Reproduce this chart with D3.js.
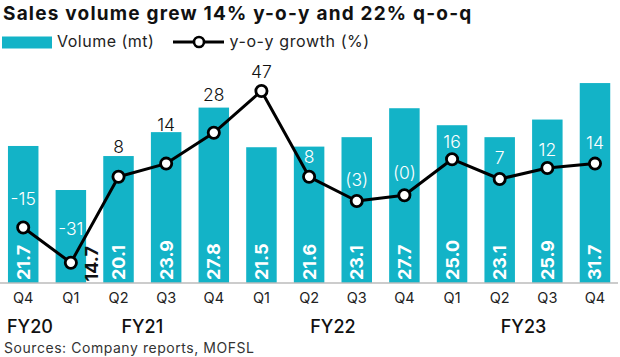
<!DOCTYPE html>
<html>
<head>
<meta charset="utf-8">
<script src="https://cdn.jsdelivr.net/npm/d3@7"></script>
<style>
  html, body { margin: 0; padding: 0; background: #fff; }
  svg { display: block; font-family: Inter, "Open Sans", sans-serif; }
</style>
</head>
<body>
<svg id="chart" width="620" height="357"></svg>
<script>
// ---- data ----
const titleText = "Sales volume grew 14% y-o-y and 22% q-o-q";
const quarters = ["Q4", "Q1", "Q2", "Q3", "Q4", "Q1", "Q2", "Q3", "Q4", "Q1", "Q2", "Q3", "Q4"];
const fiscalYears = ["FY20", "FY21", "FY21", "FY21", "FY21", "FY22", "FY22", "FY22", "FY22", "FY23", "FY23", "FY23", "FY23"];
const volume = [21.7, 14.7, 20.1, 23.9, 27.8, 21.5, 21.6, 23.1, 27.7, 25.0, 23.1, 25.9, 31.7];
const volumeLabels = ["21.7", "14.7", "20.1", "23.9", "27.8", "21.5", "21.6", "23.1", "27.7", "25.0", "23.1", "25.9", "31.7"];
const growth = [-15, -31, 8, 14, 28, 47, 8, -3, -0.4, 16, 7, 12, 14];
const growthLabels = ["-15", "-31", "8", "14", "28", "47", "8", "(3)", "(0)", "16", "7", "12", "14"];
const seriesNames = ["Volume (mt)", "y-o-y growth (%)"];
const sourceText = "Sources: Company reports, MOFSL";

// ---- drawing ----
const teal = "#13b3c7";
const svg = d3.select("#chart");
const keys = quarters.map((q, i) => i);

const x = d3.scaleBand().domain(keys).range([3.2, 615]).paddingInner(0.36).paddingOuter(0.1);
const yBar = d3.scaleLinear().domain([0, 35]).range([282.5, 62.3]);
const yLine = d3.scaleLinear().domain([-40, 60]).range([282.5, 62.3]);
const cx = i => x(i) + x.bandwidth() / 2;

// title
svg.append("text").attr("x", 3).attr("y", 19.5)
  .attr("font-size", 19).attr("font-weight", 700).attr("letter-spacing", 1.2).attr("fill", "#111")
  .text(titleText);

// legend
const lg = svg.append("g");
lg.append("rect").attr("x", 2).attr("y", 36.5).attr("width", 50).attr("height", 12).attr("fill", teal);
lg.append("text").attr("x", 57).attr("y", 47).attr("font-size", 16).attr("letter-spacing", 0.5)
  .attr("fill", "#222").text(seriesNames[0]);
lg.append("line").attr("x1", 173).attr("x2", 224).attr("y1", 42).attr("y2", 42)
  .attr("stroke", "#000").attr("stroke-width", 3);
lg.append("circle").attr("cx", 199).attr("cy", 42).attr("r", 5).attr("fill", "#fff")
  .attr("stroke", "#000").attr("stroke-width", 2.6);
lg.append("text").attr("x", 229.5).attr("y", 47).attr("font-size", 16).attr("letter-spacing", 0.6)
  .attr("fill", "#222").text(seriesNames[1]);

// bars
svg.append("g").selectAll("rect").data(volume).join("rect")
  .attr("x", (d, i) => x(i)).attr("width", x.bandwidth())
  .attr("y", d => yBar(d)).attr("height", d => yBar(0) - yBar(d))
  .attr("fill", teal);

// baseline
svg.append("line").attr("x1", 0).attr("x2", 618).attr("y1", yBar(0) + 0.5).attr("y2", yBar(0) + 0.5)
  .attr("stroke", "#999").attr("stroke-width", 1.2);

// x axis: quarters
const xAxis = d3.axisBottom(x).tickSize(0).tickPadding(0).tickFormat(i => quarters[i]);
const ax = svg.append("g").attr("transform", `translate(0,${yBar(0)})`).call(xAxis);
ax.select(".domain").remove();
ax.selectAll("text").attr("font-size", 14.5).attr("fill", "#222")
  .attr("font-family", "Inter, sans-serif").attr("dy", 0).attr("y", 20.5);

// fiscal year labels: centred between Q2 and Q3 of each year, clamped to left margin
const fyGroups = d3.groups(keys, i => fiscalYears[i]);
fyGroups.forEach(([fy, idxs]) => {
  const q2 = idxs.find(i => quarters[i] === "Q2");
  const q3 = idxs.find(i => quarters[i] === "Q3");
  const t = svg.append("text").attr("y", 332.5).attr("font-size", 18).attr("font-weight", 500)
    .attr("fill", "#111").text(fy);
  if (q2 !== undefined && q3 !== undefined) {
    t.attr("x", (cx(q2) + cx(q3)) / 2).attr("text-anchor", "middle");
  } else {
    t.attr("x", 7).attr("text-anchor", "start");
  }
});

// source
svg.append("text").attr("x", 4).attr("y", 352.5).attr("font-size", 14).attr("letter-spacing", 0.55)
  .attr("fill", "#333").text(sourceText);

// bar value labels (rotated); moved outside in black if the marker would cover them
const barLabelSize = 18;
const barLabelG = svg.append("g");
volume.forEach((v, i) => {
  const gy = yLine(growth[i]);
  const covered = gy > yBar(0) - 42;
  const px = covered ? cx(i) + 21 + 6.5 : cx(i) + 6.5;
  const py = covered ? yBar(0) - 1 : yBar(0) - 2.5;
  barLabelG.append("text")
    .attr("transform", `translate(${px},${py}) rotate(-90)`)
    .attr("font-size", barLabelSize).attr("font-weight", 700)
    .attr("fill", covered ? "#111" : "#fff")
    .text(volumeLabels[i]);
});

// growth line
const line = d3.line().x((d, i) => cx(i)).y(d => yLine(d));
svg.append("path").datum(growth).attr("d", line)
  .attr("fill", "none").attr("stroke", "#000").attr("stroke-width", 3).attr("stroke-linejoin", "round");
svg.append("g").selectAll("circle").data(growth).join("circle")
  .attr("cx", (d, i) => cx(i)).attr("cy", d => yLine(d)).attr("r", 5.6)
  .attr("fill", "#fff").attr("stroke", "#000").attr("stroke-width", 2.8);

// growth labels
const labelLift = [22.7, 27.7, 24, 33, 31.6, 13.4, 13.4, 15.5, 16, 11, 15.3, 11.6, 14.7];
growth.forEach((g, i) => {
  const by = yLine(g) - labelLift[i];
  const top = by - 12.5;
  const inside = top > yBar(volume[i]);
  svg.append("text").attr("x", cx(i)).attr("y", by).attr("text-anchor", "middle")
    .attr("font-size", 17.5).attr("font-weight", 300)
    .attr("fill", inside ? "#fff" : "#111")
    .text(growthLabels[i]);
});
</script>
</body>
</html>
